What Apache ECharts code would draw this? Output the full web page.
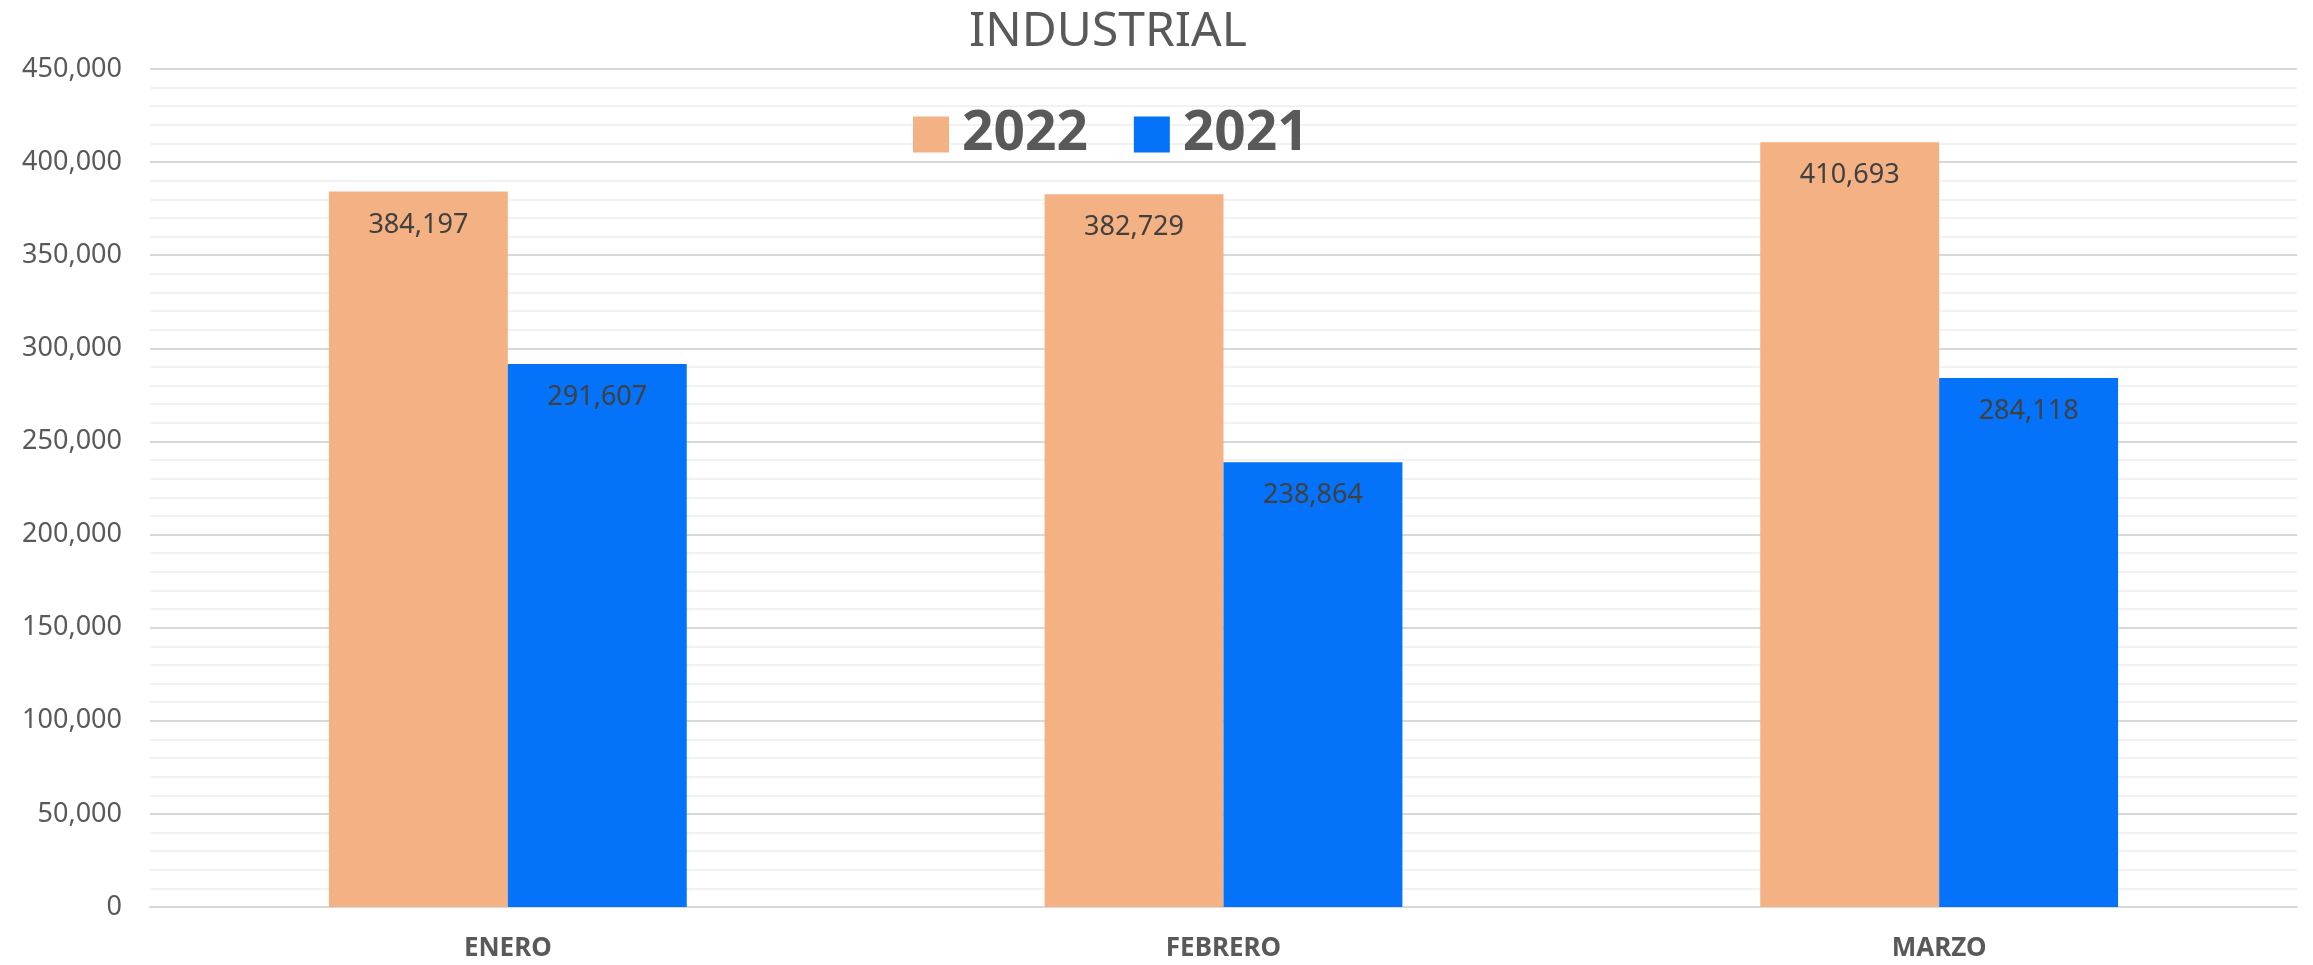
<!DOCTYPE html>
<html>
<head>
<meta charset="utf-8">
<script src="https://cdn.jsdelivr.net/npm/echarts@6/dist/echarts.min.js"></script>
<style>
  html, body { margin: 0; padding: 0; background: #fff; }
  #chart { width: 2313px; height: 965px; }
</style>
</head>
<body>
<div id="chart"></div>
<script>
  var categories = ['ENERO', 'FEBRERO', 'MARZO'];
  var values2022 = [384197, 382729, 410693];
  var values2021 = [291607, 238864, 284118];
  var seriesNames = ['2022', '2021'];

  var chart = echarts.init(document.getElementById('chart'));

  function fmt(v) {
    return v.toLocaleString('en-US');
  }

  var labelStyle = {
    show: true,
    position: 'insideTop',
    distance: 20,
    color: '#404040',
    fontSize: 27,
    fontFamily: 'Noto Sans',
    formatter: function (p) { return fmt(p.value); }
  };

  var option = {
    backgroundColor: '#ffffff',
    animation: false,
    title: {
      text: 'INDUSTRIAL',
      left: 964,
      top: 3,
      textStyle: {
        color: '#595959',
        fontSize: 48,
        fontWeight: 'normal',
        fontFamily: 'Noto Sans'
      }
    },
    legend: {
      data: seriesNames,
      top: 102,
      left: 908,
      itemWidth: 36,
      itemHeight: 36,
      itemGap: 46,
      icon: 'rect',
      textStyle: {
        color: '#595959',
        fontSize: 55,
        fontWeight: 'bold',
        fontFamily: 'Noto Sans',
        padding: [0, 0, 0, 8]
      }
    },
    grid: {
      left: 150,
      right: 16,
      top: 69,
      bottom: 58
    },
    xAxis: {
      type: 'category',
      data: categories,
      axisLine: { lineStyle: { color: '#d9d9d9', width: 2 } },
      axisTick: { show: false },
      axisLabel: {
        color: '#595959',
        fontSize: 26,
        fontWeight: 'bold',
        fontFamily: 'Noto Sans',
        margin: 29
      }
    },
    yAxis: {
      type: 'value',
      min: 0,
      max: 450000,
      interval: 50000,
      axisLine: { show: false },
      axisTick: { show: false },
      axisLabel: {
        color: '#595959',
        fontSize: 27,
        fontFamily: 'Noto Sans',
        margin: 28,
        formatter: function (v) { return fmt(v); }
      },
      splitLine: { lineStyle: { color: '#d9d9d9', width: 2 } },
      minorTick: { show: false, splitNumber: 5 },
      minorSplitLine: { show: true, lineStyle: { color: '#f2f2f2', width: 2 } }
    },
    series: [
      {
        name: seriesNames[0],
        type: 'bar',
        data: values2022,
        barWidth: '25%',
        barGap: '0%',
        itemStyle: { color: '#F4B183' },
        label: labelStyle
      },
      {
        name: seriesNames[1],
        type: 'bar',
        data: values2021,
        barWidth: '25%',
        barGap: '0%',
        itemStyle: { color: '#0573F9' },
        label: labelStyle
      }
    ]
  };

  chart.setOption(option);
  window.addEventListener('resize', function () {
    chart.resize();
  });
</script>
</body>
</html>
